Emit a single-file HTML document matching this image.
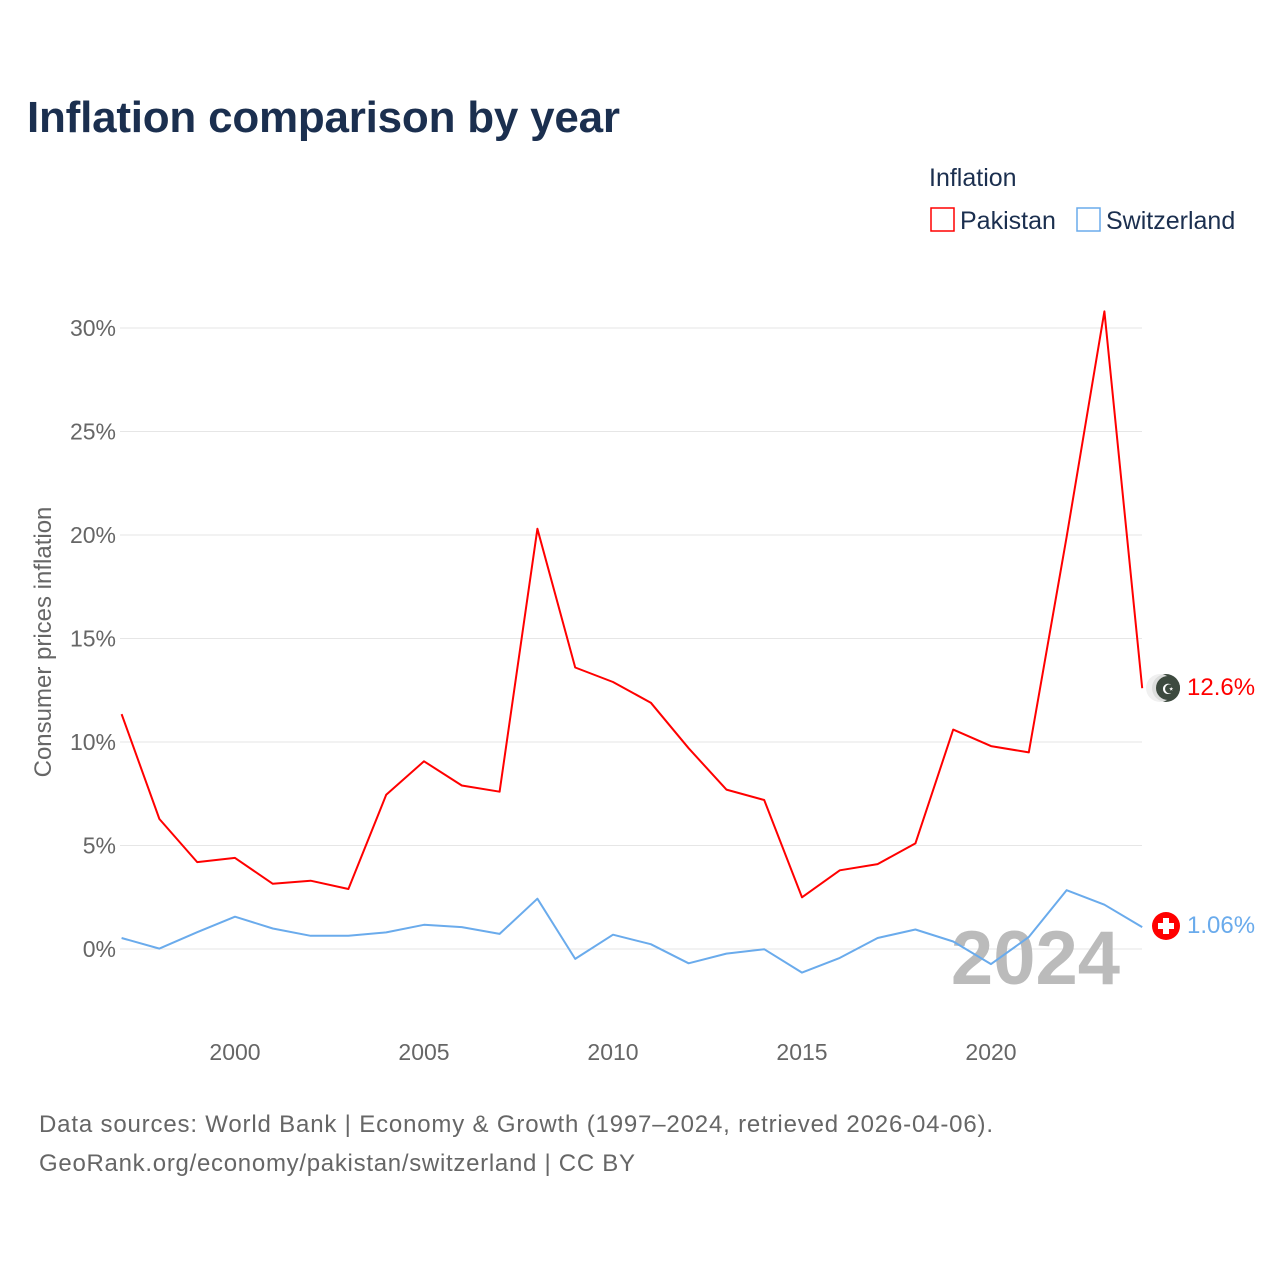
<!DOCTYPE html>
<html><head><meta charset="utf-8"><style>
body{margin:0;background:#fff;font-family:"Liberation Sans",sans-serif}
svg text{font-family:"Liberation Sans",sans-serif}
</style></head><body>
<svg width="1280" height="1280" viewBox="0 0 1280 1280" xmlns="http://www.w3.org/2000/svg">
<text x="27" y="132" font-size="44" font-weight="bold" fill="#1b2f4f" textLength="593">Inflation comparison by year</text>
<text x="929" y="186" font-size="25" fill="#1b2f4f">Inflation</text>
<g><rect x="931" y="208" width="23" height="23" fill="none" stroke="#f00" stroke-width="1.5"/><text x="960" y="229" font-size="25" fill="#1b2f4f">Pakistan</text></g>
<g><rect x="1077" y="208" width="23" height="23" fill="none" stroke="#6aabec" stroke-width="1.5"/><text x="1106" y="229" font-size="25" fill="#1b2f4f">Switzerland</text></g>
<text transform="translate(51,642) rotate(-90)" text-anchor="middle" font-size="24" fill="#666">Consumer prices inflation</text>
<g id="grid"></g><g id="yt"></g><g id="xt"></g>
<text x="1120" y="984" text-anchor="end" font-size="76" font-weight="bold" fill="#bbb">2024</text>
<g id="series"></g>
<g><circle cx="1166" cy="688" r="14" fill="#3d4a3f"/><circle cx="1160" cy="688" r="14" fill="#eee" opacity="0.9"/><circle cx="1168" cy="688" r="12" fill="#3d4a3f"/><text x="1168" y="694" text-anchor="middle" font-size="14" fill="#fff">☪</text></g>
<text x="1187" y="695" font-size="24" fill="#f00">12.6%</text>
<g><circle cx="1166" cy="926" r="14" fill="#f00"/><rect x="1163" y="918" width="6" height="16" fill="#fff"/><rect x="1158" y="923" width="16" height="6" fill="#fff"/></g>
<text x="1187" y="933" font-size="24" fill="#6aabec">1.06%</text>
<text x="39" y="1132" font-size="24" fill="#666" textLength="954">Data sources: World Bank | Economy &amp; Growth (1997–2024, retrieved 2026-04-06).</text>
<text x="39" y="1171" font-size="24" fill="#666" textLength="596">GeoRank.org/economy/pakistan/switzerland | CC BY</text>
</svg>
<script>
const years=[1997,1998,1999,2000,2001,2002,2003,2004,2005,2006,2007,2008,2009,2010,2011,2012,2013,2014,2015,2016,2017,2018,2019,2020,2021,2022,2023,2024];
const pakistan=[11.35,6.28,4.2,4.4,3.15,3.3,2.9,7.45,9.07,7.9,7.6,20.3,13.6,12.9,11.9,9.7,7.7,7.2,2.5,3.8,4.1,5.1,10.6,9.8,9.5,19.9,30.8,12.6];
const switzerland=[0.53,0.02,0.81,1.56,0.99,0.64,0.64,0.8,1.17,1.06,0.73,2.43,-0.48,0.69,0.23,-0.69,-0.22,-0.01,-1.14,-0.43,0.53,0.94,0.36,-0.73,0.58,2.84,2.14,1.06];
const yTicks=[0,5,10,15,20,25,30];
const yTickLabels=["0%","5%","10%","15%","20%","25%","30%"];
const xTicks=[2000,2005,2010,2015,2020];
const NS="http://www.w3.org/2000/svg";
const x=v=>121.6+(v-1997)*37.8;
const y=v=>949-v*20.7;
function mk(t,a,p){const e=document.createElementNS(NS,t);for(const k in a)e.setAttribute(k,a[k]);p.appendChild(e);return e;}
const g=document.getElementById('grid'),yt=document.getElementById('yt'),xt=document.getElementById('xt'),s=document.getElementById('series');
yTicks.forEach((v,i)=>{
 const l=mk('line',{x1:120,x2:1142,y1:y(v),y2:y(v),stroke:'#e6e6e6','stroke-width':1},g);
 
 
 const t=mk('text',{x:116,y:y(v)+8,'text-anchor':'end','font-size':23,fill:'#666'},yt);
 t.textContent=yTickLabels[i];
 
 
});
xTicks.forEach(v=>{
 const t=mk('text',{x:x(v),y:1060,'text-anchor':'middle','font-size':23,fill:'#666'},xt);
 t.textContent=v;
 
 
});
function line(vals,col,name){
 const d=vals.map((v,i)=>(i?'L':'M')+x(years[i]).toFixed(1)+','+y(v).toFixed(1)).join('');
 const p=mk('path',{d:d,fill:'none',stroke:col,'stroke-width':2,'stroke-linejoin':'round'},s);
 
 
}
line(switzerland,'#6aabec','switzerland-line');
line(pakistan,'#f00','pakistan-line');
</script>
</body></html>
